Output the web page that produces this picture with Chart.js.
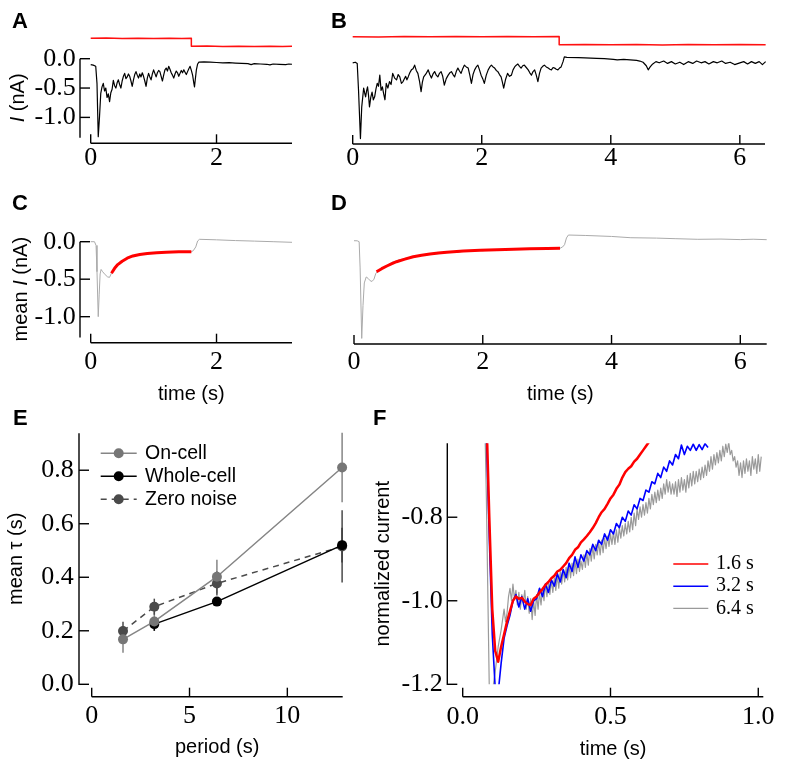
<!DOCTYPE html>
<html>
<head>
<meta charset="utf-8">
<script src="https://cdn.jsdelivr.net/npm/chart.js@4/dist/chart.umd.min.js"></script>
<style>
body { margin: 0; background: #fff; }
#fig { position: relative; width: 800px; height: 766px; overflow: hidden; background: #fff; }
#fig canvas { position: absolute; left: 0; top: 0; }
.lbl { position: absolute; font: bold 22px "Liberation Sans", Arial, sans-serif; line-height: 22px; color: #000; }
</style>
</head>
<body>
<div id="fig">
  <canvas id="stimA" width="800" height="766"></canvas>
  <canvas id="chA" width="800" height="766"></canvas>
  <canvas id="stimB" width="800" height="766"></canvas>
  <canvas id="chB" width="800" height="766"></canvas>
  <canvas id="chC" width="800" height="766"></canvas>
  <canvas id="chD" width="800" height="766"></canvas>
  <canvas id="chE" width="800" height="766"></canvas>
  <canvas id="chF" width="800" height="766"></canvas>
  <div class="lbl" style="left:12px;top:10px">A</div>
  <div class="lbl" style="left:331px;top:10px">B</div>
  <div class="lbl" style="left:12px;top:192px">C</div>
  <div class="lbl" style="left:331px;top:192px">D</div>
  <div class="lbl" style="left:13px;top:407px">E</div>
  <div class="lbl" style="left:373px;top:407px">F</div>
</div>
<script>
// ---- data: stimulus (arbitrary units, 1 = high, 0 = low) ----
const stimA = [[0,1],[0.25,1.03],[0.5,0.98],[0.75,1.02],[1.0,0.97],[1.25,1.02],[1.45,0.99],[1.6,1],
  [1.6,0],[1.85,0.03],[2.1,-0.02],[2.35,0.02],[2.6,-0.03],[2.85,0.02],[3.05,-0.02],[3.2,0.01]];
const stimB = [[0,1],[0.4,0.97],[0.8,1.03],[1.2,0.98],[1.6,1.02],[2.0,0.98],[2.4,1.03],[2.8,0.99],[3.2,1.01],
  [3.2,0],[3.6,0.03],[4.0,-0.02],[4.4,0.02],[4.8,-0.03],[5.2,0.02],[5.6,-0.02],[6.0,0.03],[6.4,0]];

// ---- data: single sweeps, [time s, current nA] ----
const traceA = [[0,-0.10],[0.04,-0.11],[0.08,-0.13],[0.1,-0.42],[0.12,-1.33],[0.14,-0.99],[0.16,-0.59],
  [0.18,-0.48],[0.20,-0.42],[0.22,-0.55],[0.24,-0.50],[0.26,-0.66],[0.28,-0.60],[0.30,-0.73],[0.32,-0.58],
  [0.34,-0.52],[0.36,-0.37],[0.38,-0.46],[0.40,-0.50],[0.42,-0.41],[0.44,-0.36],[0.46,-0.44],[0.48,-0.50],
  [0.50,-0.38],[0.52,-0.30],[0.54,-0.25],[0.56,-0.34],[0.58,-0.31],[0.60,-0.26],[0.62,-0.30],[0.64,-0.38],
  [0.66,-0.47],[0.68,-0.36],[0.70,-0.27],[0.72,-0.22],[0.74,-0.28],[0.76,-0.33],[0.78,-0.26],[0.80,-0.31],
  [0.82,-0.24],[0.84,-0.30],[0.86,-0.38],[0.88,-0.47],[0.90,-0.33],[0.92,-0.25],[0.94,-0.31],[0.96,-0.36],
  [0.98,-0.26],[1.00,-0.19],[1.02,-0.25],[1.04,-0.31],[1.06,-0.24],[1.08,-0.20],[1.10,-0.22],[1.12,-0.30],
  [1.14,-0.38],[1.16,-0.28],[1.18,-0.19],[1.20,-0.16],[1.22,-0.21],[1.24,-0.13],[1.26,-0.18],[1.28,-0.24],
  [1.30,-0.28],[1.32,-0.33],[1.34,-0.26],[1.36,-0.21],[1.38,-0.24],[1.40,-0.30],[1.42,-0.25],[1.44,-0.20],
  [1.46,-0.24],[1.48,-0.19],[1.50,-0.23],[1.52,-0.27],[1.54,-0.22],[1.56,-0.17],[1.58,-0.13],[1.60,-0.20],
  [1.62,-0.28],[1.64,-0.42],[1.65,-0.48],[1.66,-0.38],[1.68,-0.19],[1.70,-0.09],[1.72,-0.06],[1.80,-0.055],
  [1.9,-0.06],[2.0,-0.065],[2.1,-0.07],[2.2,-0.068],[2.3,-0.075],[2.4,-0.08],[2.5,-0.085],[2.55,-0.1],
  [2.6,-0.085],[2.7,-0.09],[2.8,-0.095],[2.85,-0.105],[2.9,-0.09],[3.0,-0.095],[3.1,-0.1],[3.15,-0.09],[3.2,-0.095]];

const traceB = [[0,-0.07],[0.04,-0.06],[0.07,-0.08],[0.09,-0.53],[0.12,-1.36],[0.14,-0.82],[0.17,-0.50],
  [0.185,-0.58],[0.2,-0.65],[0.215,-0.55],[0.23,-0.48],[0.245,-0.62],[0.26,-0.82],[0.28,-0.66],[0.3,-0.57],
  [0.32,-0.70],[0.34,-0.65],[0.36,-0.52],[0.38,-0.42],[0.40,-0.47],[0.42,-0.28],[0.44,-0.54],[0.46,-0.48],
  [0.48,-0.60],[0.50,-0.70],[0.52,-0.42],[0.545,-0.50],[0.57,-0.39],[0.595,-0.44],[0.62,-0.25],[0.65,-0.33],
  [0.68,-0.36],[0.705,-0.27],[0.73,-0.31],[0.755,-0.42],[0.78,-0.39],[0.82,-0.30],[0.84,-0.36],[0.86,-0.31],
  [0.885,-0.24],[0.91,-0.19],[0.935,-0.17],[0.96,-0.11],[0.985,-0.20],[1.01,-0.25],[1.035,-0.38],[1.06,-0.56],
  [1.08,-0.40],[1.10,-0.31],[1.135,-0.26],[1.17,-0.19],[1.195,-0.27],[1.22,-0.33],[1.245,-0.26],[1.27,-0.22],
  [1.295,-0.28],[1.32,-0.31],[1.345,-0.25],[1.37,-0.22],[1.395,-0.30],[1.42,-0.45],[1.45,-0.34],[1.48,-0.28],
  [1.505,-0.24],[1.53,-0.22],[1.555,-0.27],[1.58,-0.31],[1.605,-0.22],[1.63,-0.16],[1.655,-0.21],[1.68,-0.25],
  [1.705,-0.17],[1.73,-0.11],[1.76,-0.14],[1.79,-0.16],[1.815,-0.28],[1.84,-0.42],[1.865,-0.27],[1.89,-0.19],
  [1.915,-0.14],[1.94,-0.11],[1.965,-0.19],[1.99,-0.28],[2.015,-0.34],[2.04,-0.42],[2.07,-0.28],[2.10,-0.19],
  [2.125,-0.14],[2.15,-0.11],[2.175,-0.14],[2.20,-0.16],[2.225,-0.20],[2.25,-0.22],[2.275,-0.27],[2.30,-0.31],
  [2.32,-0.40],[2.34,-0.50],[2.37,-0.35],[2.40,-0.25],[2.43,-0.30],[2.46,-0.28],[2.485,-0.19],[2.51,-0.14],
  [2.535,-0.11],[2.56,-0.09],[2.585,-0.13],[2.61,-0.16],[2.635,-0.12],[2.66,-0.11],[2.69,-0.15],[2.72,-0.19],
  [2.745,-0.24],[2.77,-0.28],[2.795,-0.22],[2.82,-0.19],[2.845,-0.28],[2.87,-0.39],[2.895,-0.25],[2.92,-0.16],
  [2.945,-0.13],[2.97,-0.11],[3.0,-0.14],[3.03,-0.16],[3.055,-0.18],[3.08,-0.19],[3.105,-0.15],[3.13,-0.16],
  [3.155,-0.18],[3.18,-0.19],[3.205,-0.16],[3.23,-0.14],[3.26,-0.05],[3.28,0.03],[3.32,0.024],[3.5,0.02],
  [3.6,0.015],[3.78,0.007],[3.9,0.0],[4.04,-0.01],[4.1,-0.02],[4.2,-0.01],[4.3,-0.02],[4.4,-0.03],[4.45,-0.04],
  [4.5,-0.06],[4.55,-0.12],[4.58,-0.19],[4.61,-0.14],[4.64,-0.1],[4.7,-0.05],[4.75,-0.07],[4.82,-0.04],
  [4.88,-0.08],[4.94,-0.05],[5.0,-0.09],[5.07,-0.06],[5.13,-0.1],[5.2,-0.05],[5.27,-0.08],[5.33,-0.04],
  [5.4,-0.07],[5.46,-0.05],[5.52,-0.09],[5.59,-0.05],[5.65,-0.07],[5.72,-0.04],[5.78,-0.08],[5.85,-0.06],
  [5.92,-0.1],[6.0,-0.07],[6.06,-0.05],[6.12,-0.09],[6.18,-0.05],[6.24,-0.08],[6.3,-0.05],[6.35,-0.1],[6.4,-0.05]];

// ---- data: mean currents and exponential fits ----
const meanC = [[0,0.0],[0.06,0.0],[0.085,-0.05],[0.1,-0.4],[0.12,-1.0],[0.135,-0.7],[0.15,-0.43],[0.165,-0.37],
  [0.19,-0.40],[0.23,-0.44],[0.27,-0.47],[0.3,-0.475],[0.33,-0.42],[0.4,-0.33],[0.5,-0.26],[0.6,-0.215],
  [0.8,-0.17],[1.0,-0.152],[1.2,-0.14],[1.4,-0.135],[1.6,-0.133],[1.63,-0.12],[1.67,-0.07],[1.7,0.01],
  [1.73,0.032],[2.0,0.025],[2.3,0.015],[2.6,0.008],[2.9,0.0],[3.2,-0.008]];
const fitC = [[0.33,-0.42],[0.38,-0.355],[0.43,-0.305],[0.5,-0.26],[0.58,-0.22],[0.67,-0.19],[0.78,-0.17],
  [0.9,-0.157],[1.05,-0.147],[1.2,-0.14],[1.4,-0.135],[1.6,-0.133]];
const meanD = [[0,0.013],[0.05,0.012],[0.08,0.0],[0.095,-0.35],[0.12,-1.29],[0.14,-0.85],[0.16,-0.55],
  [0.19,-0.47],[0.22,-0.49],[0.25,-0.52],[0.28,-0.53],[0.31,-0.50],[0.34,-0.42],[0.38,-0.39],[0.42,-0.36],
  [0.46,-0.345],[0.5,-0.33],[0.55,-0.30],[0.6,-0.27],[0.65,-0.265],[0.7,-0.24],[0.75,-0.235],[0.8,-0.22],
  [0.85,-0.215],[0.9,-0.20],[0.95,-0.205],[1.0,-0.185],[1.1,-0.18],[1.2,-0.165],[1.3,-0.16],[1.4,-0.15],
  [1.5,-0.14],[1.6,-0.145],[1.7,-0.125],[1.8,-0.13],[1.9,-0.115],[2.0,-0.12],[2.1,-0.11],[2.2,-0.105],
  [2.3,-0.115],[2.4,-0.1],[2.5,-0.105],[2.6,-0.095],[2.7,-0.1],[2.8,-0.09],[2.9,-0.095],[3.0,-0.085],
  [3.1,-0.09],[3.2,-0.088],[3.24,-0.07],[3.27,-0.04],[3.3,0.05],[3.33,0.089],[3.6,0.083],[4.0,0.07],
  [4.3,0.053],[4.7,0.048],[5.0,0.04],[5.34,0.032],[5.7,0.035],[6.0,0.028],[6.2,0.033],[6.41,0.027]];
const fitD = [[0.35,-0.40],[0.43,-0.36],[0.51,-0.324],[0.58,-0.295],[0.66,-0.267],[0.79,-0.232],[0.92,-0.20],
  [1.05,-0.18],[1.18,-0.164],[1.31,-0.152],[1.44,-0.142],[1.7,-0.124],[1.96,-0.114],[2.22,-0.107],
  [2.48,-0.1],[2.73,-0.093],[3.0,-0.09],[3.2,-0.089]];

// ---- data: panel E, mean tau vs period ----
const periods = [1.6, 3.2, 6.4, 12.8];
const onCell = [0.168, 0.235, 0.402, 0.81];
const onCellErr = [0.05, 0.035, 0.063, 0.13];
const wholeCell = [null, 0.225, 0.309, 0.52];
const wholeCellErr = [null, 0.025, 0.015, 0.065];
const zeroNoise = [0.199, 0.29, 0.377, 0.515];
const zeroNoiseErr = [0.035, 0.03, 0.045, 0.135];

// ---- data: panel F, normalized current ----
const fTime = [0.07,0.08,0.09,0.10,0.11,0.12,0.13,0.14,0.15,0.16,0.17,0.18,0.19,0.20,0.21,0.22,0.23,0.24,
  0.25,0.26,0.27,0.28,0.29,0.30,0.31,0.32,0.33,0.34,0.35,0.36,0.37,0.38,0.39,0.40,0.41,0.42,0.43,0.44,0.45,
  0.46,0.47,0.48,0.49,0.50,0.51,0.52,0.53,0.54,0.55,0.56,0.57,0.58,0.59,0.60,0.61,0.62,0.63,0.64,0.65,0.66,
  0.67,0.68,0.69,0.70,0.71,0.72,0.73,0.74,0.75,0.76,0.77,0.78,0.79,0.80,0.81,0.82,0.83];
const norm16 = [-0.40,-0.55,-0.80,-1.02,-1.12,-1.146,-1.11,-1.08,-1.05,-1.025,
  -1.00,-0.99,-0.995,-0.993,-1.002,-1.008,-1.01,-0.995,-0.99,-0.98,
  -0.972,-0.962,-0.955,-0.946,-0.94,-0.93,-0.926,-0.918,-0.91,-0.898,
  -0.89,-0.878,-0.872,-0.86,-0.853,-0.845,-0.836,-0.826,-0.814,-0.80,
  -0.788,-0.78,-0.768,-0.755,-0.746,-0.732,-0.722,-0.705,-0.692,-0.684,
  -0.678,-0.667,-0.66,-0.65,-0.64,-0.63,-0.62];
const norm32 = [-0.40,-0.60,-0.85,-1.08,-1.21,-1.22,-1.15,-1.09,-1.06,-1.035,
  -1.0,-0.985,-1.015,-0.99,-1.02,-0.995,-1.025,-1.0,-0.995,-0.97,
  -0.99,-0.96,-0.98,-0.95,-0.965,-0.935,-0.955,-0.925,-0.945,-0.91,
  -0.93,-0.895,-0.92,-0.89,-0.905,-0.88,-0.89,-0.865,-0.88,-0.855,
  -0.865,-0.84,-0.855,-0.83,-0.84,-0.815,-0.825,-0.8,-0.81,-0.785,
  -0.795,-0.77,-0.78,-0.755,-0.76,-0.735,-0.74,-0.715,-0.72,-0.695,
  -0.705,-0.68,-0.69,-0.665,-0.675,-0.65,-0.66,-0.627,-0.65,-0.63,
  -0.64,-0.625,-0.64,-0.626,-0.638,-0.624,-0.633];
// 6.4 s sweep is sampled more finely: [time s, normalized current]
const norm64 = [[0.07,-0.40],[0.08,-0.75],[0.09,-1.21],[0.10,-1.22],[0.11,-1.17],[0.12,-1.11],[0.13,-1.07],
  [0.14,-1.02],[0.145,-1.05],[0.15,-1.03],[0.155,-0.99],
  [0.16,-0.97],[0.165,-1.00],[0.17,-0.96],[0.175,-0.995],[0.18,-0.975],[0.185,-1.01],[0.19,-0.98],[0.195,-1.02],[0.20,-0.985],[0.205,-1.005],
  [0.21,-0.975],[0.215,-1.02],[0.22,-0.99],[0.225,-1.03],[0.23,-0.995],[0.235,-1.045],[0.24,-1.0],[0.245,-1.035],[0.25,-0.985],[0.255,-1.02],
  [0.26,-0.98],[0.265,-1.01],[0.27,-0.97],[0.275,-1.0],[0.28,-0.96],[0.285,-0.99],[0.29,-0.955],[0.295,-0.985],[0.30,-0.95],[0.305,-0.98],
  [0.31,-0.945],[0.315,-0.975],[0.32,-0.94],[0.325,-0.97],[0.33,-0.93],[0.335,-0.96],[0.34,-0.925],[0.345,-0.955],[0.35,-0.92],[0.355,-0.95],
  [0.36,-0.915],[0.365,-0.945],[0.37,-0.91],[0.375,-0.94],[0.38,-0.905],[0.385,-0.935],[0.39,-0.9],[0.395,-0.93],[0.40,-0.905],[0.405,-0.925],
  [0.41,-0.89],[0.415,-0.92],[0.42,-0.885],[0.425,-0.915],[0.43,-0.875],[0.435,-0.905],[0.44,-0.87],[0.445,-0.9],[0.45,-0.865],[0.455,-0.89],
  [0.46,-0.86],[0.465,-0.89],[0.47,-0.855],[0.475,-0.885],[0.48,-0.85],[0.485,-0.875],[0.49,-0.845],[0.495,-0.87],[0.50,-0.84],[0.505,-0.865],
  [0.51,-0.835],[0.515,-0.865],[0.52,-0.83],[0.525,-0.86],[0.53,-0.825],[0.535,-0.85],[0.54,-0.82],[0.545,-0.845],[0.55,-0.815],[0.555,-0.84],
  [0.56,-0.81],[0.565,-0.835],[0.57,-0.8],[0.575,-0.83],[0.58,-0.79],[0.585,-0.82],[0.59,-0.78],[0.595,-0.805],[0.60,-0.775],[0.605,-0.8],
  [0.61,-0.77],[0.615,-0.795],[0.62,-0.765],[0.625,-0.79],[0.63,-0.755],[0.635,-0.78],[0.64,-0.745],[0.645,-0.77],[0.65,-0.74],[0.655,-0.765],
  [0.66,-0.735],[0.665,-0.76],[0.67,-0.73],[0.675,-0.755],[0.68,-0.72],[0.685,-0.745],[0.69,-0.71],[0.695,-0.74],[0.70,-0.715],[0.705,-0.745],
  [0.71,-0.72],[0.715,-0.745],[0.72,-0.715],[0.725,-0.75],[0.73,-0.71],[0.735,-0.74],[0.74,-0.705],[0.745,-0.735],[0.75,-0.71],[0.755,-0.74],
  [0.76,-0.7],[0.765,-0.73],[0.77,-0.695],[0.775,-0.725],[0.78,-0.69],[0.785,-0.72],[0.79,-0.69],[0.795,-0.715],[0.80,-0.685],[0.805,-0.71],
  [0.81,-0.68],[0.815,-0.705],[0.82,-0.675],[0.825,-0.7],[0.83,-0.665],[0.835,-0.69],[0.84,-0.655],[0.845,-0.685],[0.85,-0.65],[0.855,-0.675],
  [0.86,-0.645],[0.865,-0.67],[0.87,-0.64],[0.875,-0.665],[0.88,-0.63],[0.885,-0.655],[0.89,-0.625],[0.895,-0.645],[0.90,-0.62],[0.905,-0.65],
  [0.91,-0.64],[0.915,-0.665],[0.92,-0.655],[0.925,-0.68],[0.93,-0.665],[0.935,-0.7],[0.94,-0.67],[0.945,-0.705],[0.95,-0.665],[0.955,-0.695],
  [0.96,-0.66],[0.965,-0.69],[0.97,-0.665],[0.975,-0.7],[0.98,-0.655],[0.985,-0.685],[0.99,-0.66],[0.995,-0.695],[1.00,-0.65],[1.005,-0.69],
  [1.01,-0.655]];

// tick values
const ticksAx = [0, 2], ticksBx = [0, 2, 4, 6], ticksIy = [0, -0.5, -1.0];
const ticksEx = [0, 5, 10], ticksEy = [0, 0.2, 0.4, 0.6, 0.8];
const ticksFx = [0, 0.5, 1.0], ticksFy = [-1.2, -1.0, -0.8];

const SERIF = '"Liberation Serif", "Times New Roman", serif';
const SANS = '"Liberation Sans", Arial, sans-serif';

// detached axis lines with inward ticks
const spines = {
  id: 'spines',
  afterDraw(chart, args, o) {
    const ctx = chart.ctx, a = chart.chartArea, sx = chart.scales.x, sy = chart.scales.y;
    ctx.save();
    ctx.strokeStyle = '#000';
    ctx.lineWidth = 1.4;
    const seg = (x1, y1, x2, y2) => { ctx.beginPath(); ctx.moveTo(x1, y1); ctx.lineTo(x2, y2); ctx.stroke(); };
    if (o.dy != null) {
      const y0 = a.bottom + o.dy;
      seg(a.left, y0, a.right, y0);
      sx.ticks.forEach(t => { const px = sx.getPixelForValue(t.value); seg(px, y0, px, y0 - 9); });
    }
    if (o.dx != null) {
      const x0 = a.left - o.dx;
      seg(x0, a.top, x0, a.bottom + 0.7);
      sy.ticks.forEach(t => { const py = sy.getPixelForValue(t.value); seg(x0, py, x0 + 10, py); });
    }
    ctx.restore();
  }
};

// vertical error bars from a dataset's "errors" array
const errorBars = {
  id: 'errorBars',
  beforeDatasetsDraw(chart) {
    const ctx = chart.ctx, sy = chart.scales.y;
    chart.data.datasets.forEach((ds, di) => {
      if (!ds.errors) return;
      const meta = chart.getDatasetMeta(di);
      ctx.save();
      ctx.strokeStyle = ds.borderColor;
      ctx.lineWidth = 1.5;
      meta.data.forEach((pt, i) => {
        const v = ds.data[i][1], e = ds.errors[i];
        if (v == null || e == null) return;
        ctx.beginPath();
        ctx.moveTo(pt.x, sy.getPixelForValue(v - e));
        ctx.lineTo(pt.x, sy.getPixelForValue(v + e));
        ctx.stroke();
      });
      ctx.restore();
    });
  }
};

// legend: short line sample (+ marker) followed by the label
const lineLegend = {
  id: 'lineLegend',
  afterDraw(chart, args, o) {
    if (o.x == null) return;
    const ctx = chart.ctx;
    chart.data.datasets.forEach((ds, i) => {
      const y = o.y + i * o.gap;
      ctx.save();
      ctx.strokeStyle = ds.borderColor;
      ctx.lineWidth = Math.min(ds.borderWidth, 1.5);
      ctx.setLineDash(ds.borderDash || []);
      ctx.beginPath(); ctx.moveTo(o.x, y); ctx.lineTo(o.x + o.len, y); ctx.stroke();
      if (ds.pointRadius) {
        ctx.fillStyle = ds.pointBackgroundColor;
        ctx.beginPath(); ctx.arc(o.x + o.len / 2, y, ds.pointRadius, 0, Math.PI * 2); ctx.fill();
      }
      ctx.fillStyle = '#000';
      ctx.font = o.font;
      ctx.textAlign = 'left';
      ctx.textBaseline = 'middle';
      ctx.fillText(ds.label, o.x + o.len + o.textGap, y);
      ctx.restore();
    });
  }
};

// rotated y title with an italic symbol
const yTitle = {
  id: 'yTitle',
  afterDraw(chart, args, o) {
    if (o.x == null) return;
    const ctx = chart.ctx, a = chart.chartArea;
    const parts = [[o.before, ''], [o.italic, 'italic '], [o.after, '']];
    ctx.save();
    ctx.translate(o.x, (a.top + a.bottom) / 2);
    ctx.rotate(-Math.PI / 2);
    ctx.fillStyle = '#000';
    ctx.textBaseline = 'middle';
    ctx.textAlign = 'left';
    let total = 0;
    const w = parts.map(p => { ctx.font = p[1] + '20px ' + SANS; const m = ctx.measureText(p[0]).width; total += m; return m; });
    let x = -total / 2;
    parts.forEach((p, i) => { ctx.font = p[1] + '20px ' + SANS; ctx.fillText(p[0], x, 0); x += w[i]; });
    ctx.restore();
  }
};

function axis(o, isX) {
  if (!o.show) return { type: 'linear', display: false, min: o.min, max: o.max };
  return {
    type: 'linear',
    position: isX ? 'bottom' : 'left',
    min: o.min,
    max: o.max,
    afterFit(s) { if (isX) s.height = o.size; else s.width = o.size; },
    afterBuildTicks(s) { s.ticks = o.ticks.map(v => ({ value: v })); },
    grid: { display: false, drawTicks: false },
    border: { display: false },
    ticks: { autoSkip: false, maxRotation: 0, padding: o.pad, color: '#000',
      font: { family: SERIF, size: 26 }, callback: o.fmt },
    title: o.title ? { display: true, text: o.title, color: '#000',
      font: { family: SANS, size: 20 }, padding: { top: 0, bottom: o.titlePad || 0 } } : { display: false }
  };
}

function makeChart(id, box, x, y, datasets, plug) {
  return new Chart(document.getElementById(id), {
    type: 'line',
    data: { datasets },
    options: {
      responsive: false,
      animation: false,
      devicePixelRatio: 1,
      events: [],
      layout: { padding: {
        left: box.left - (y.show ? y.size : 0),
        right: 800 - box.right,
        top: box.top,
        bottom: 766 - box.bottom - (x.show ? x.size : 0)
      } },
      scales: { x: axis(x, true), y: axis(y, false) },
      elements: { point: { radius: 0 }, line: { tension: 0, borderJoinStyle: 'round' } },
      plugins: Object.assign({ legend: { display: false }, tooltip: { enabled: false } }, plug || {})
    },
    plugins: [spines, errorBars, lineLegend, yTitle]
  });
}

const line = (data, color, width, clip) => ({ data, borderColor: color, borderWidth: width, pointRadius: 0, clip });
const fmt1 = v => v.toFixed(1);
const fmt0 = v => String(v);
const hidden = (min, max) => ({ show: false, min, max });

// stimulus traces
makeChart('stimA', { left: 90.7, right: 292, top: 34.3, bottom: 50.3 }, hidden(0, 3.2), hidden(-0.5, 1.5),
  [line(stimA, '#ff1010', 1.5, false)]);
makeChart('stimB', { left: 352.7, right: 765, top: 32.7, bottom: 48.7 }, hidden(0, 6.39), hidden(-0.5, 1.5),
  [line(stimB, '#ff1010', 1.5, false)]);

// A
makeChart('chA', { left: 90.7, right: 292, top: 58.7, bottom: 137 },
  { show: true, min: 0, max: 3.2, ticks: ticksAx, size: 40, pad: 5.8, fmt: fmt0 },
  { show: true, min: -1.334, max: 0, ticks: ticksIy, size: 60, pad: 15, fmt: fmt1 },
  [line(traceA, '#000', 1.2, false)],
  { spines: { dx: 10.7, dy: 6.3 }, yTitle: { x: 18, before: '', italic: 'I', after: ' (nA)' } });

// B
makeChart('chB', { left: 352.7, right: 765, top: 58.7, bottom: 137 },
  { show: true, min: 0, max: 6.39, ticks: ticksBx, size: 40, pad: 5.8, fmt: fmt0 },
  hidden(-1.334, 0),
  [line(traceB, '#000', 1.2, false)],
  { spines: { dy: 7 } });

// C
makeChart('chC', { left: 90.7, right: 292, top: 241.7, bottom: 336.7 },
  { show: true, min: 0, max: 3.2, ticks: ticksAx, size: 70, pad: 10.2, fmt: fmt0, title: 'time (s)', titlePad: 0.7 },
  { show: true, min: -1.267, max: 0, ticks: ticksIy, size: 60, pad: 15, fmt: fmt1 },
  [line(fitC, '#ff0000', 3, false), line(meanC, '#aaaaaa', 1, false)],
  { spines: { dx: 10.7, dy: 6 }, yTitle: { x: 21, before: 'mean ', italic: 'I', after: ' (nA)' } });

// D
makeChart('chD', { left: 354, right: 766.7, top: 241.7, bottom: 336.7 },
  { show: true, min: 0, max: 6.41, ticks: ticksBx, size: 70, pad: 10.2, fmt: fmt0, title: 'time (s)', titlePad: 0.7 },
  hidden(-1.267, 0),
  [line(fitD, '#ff0000', 3, false), line(meanD, '#aaaaaa', 1, false)],
  { spines: { dy: 7.3 } });

// E
const seriesE = (label, vals, errs, color, lineColor, dash) => ({
  label,
  data: periods.map((p, i) => [p, vals[i]]),
  errors: errs,
  borderColor: lineColor,
  borderWidth: 1.5,
  borderDash: dash,
  pointRadius: 5,
  pointBackgroundColor: color,
  pointBorderColor: color,
  pointBorderWidth: 0,
  clip: false
});
makeChart('chE', { left: 91.7, right: 342.7, top: 433.3, bottom: 684.3 },
  { show: true, min: 0, max: 12.83, ticks: ticksEx, size: 80, pad: 16.1, fmt: fmt0, title: 'period (s)', titlePad: 4.8 },
  { show: true, min: 0, max: 0.938, ticks: ticksEy, size: 87.7, pad: 18, fmt: fmt1, title: 'mean τ (s)' },
  [seriesE('On-cell', onCell, onCellErr, '#767676', '#858585', []),
   seriesE('Whole-cell', wholeCell, wholeCellErr, '#000', '#000', []),
   seriesE('Zero noise', zeroNoise, zeroNoiseErr, '#4a4a4a', '#4a4a4a', [6, 5])],
  { spines: { dx: 12.7, dy: 12.4 },
    lineLegend: { x: 100.7, y: 453.3, gap: 23, len: 36, textGap: 8.3, font: '19.5px ' + SANS } });

// F
const seriesF = (label, data, color, width) => ({ label, data, borderColor: color, borderWidth: width, pointRadius: 0 });
makeChart('chF', { left: 462.7, right: 763.3, top: 443.3, bottom: 684.3 },
  { show: true, min: 0, max: 1.017, ticks: ticksFx, size: 80, pad: 16.8, fmt: fmt1, title: 'time (s)', titlePad: 3.3 },
  { show: true, min: -1.2, max: -0.623, ticks: ticksFy, size: 91.4, pad: 20, fmt: fmt1, title: 'normalized current' },
  [seriesF('1.6 s', norm16.map((v, i) => [fTime[i], v]), '#ff0000', 2.5),
   seriesF('3.2 s', norm32.map((v, i) => [fTime[i], v]), '#0000ff', 1.6),
   seriesF('6.4 s', norm64, '#9a9a9a', 1.2)],
  { spines: { dx: 15.4, dy: 12.4 },
    lineLegend: { x: 673.3, y: 564, gap: 22.2, len: 35, textGap: 7.7, font: '20px ' + SERIF } });
</script>
</body>
</html>
